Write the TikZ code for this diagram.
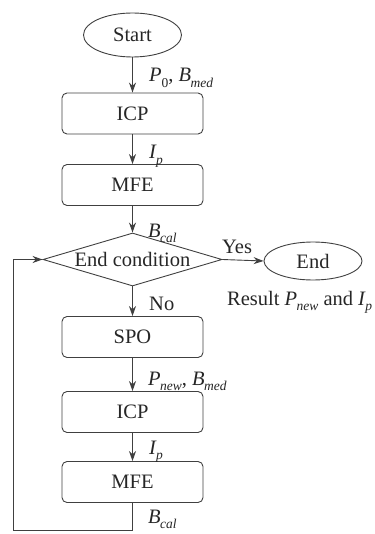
\documentclass[tikz,border=0pt]{standalone}
\usepackage{fontspec}
\setmainfont{Liberation Serif}
\usetikzlibrary{shapes.geometric,arrows.meta}
\newcommand{\ssb}[1]{\kern-0.6pt\raisebox{-0.28em}{\fontsize{13.5}{14}\selectfont\textit{#1}}}
\newcommand{\ssbu}[1]{\raisebox{-0.28em}{\fontsize{13.5}{14}\selectfont #1}}
\begin{document}
\begin{tikzpicture}[x=1pt,y=-1pt,
  every node/.style={font=\fontsize{20.5}{25}\selectfont, text=black!85},
  ln/.style={draw=black!75, line width=0.9pt},
  arr/.style={ln, -{Stealth[length=10pt,width=7pt]}},
  proc/.style={ln, rectangle, rounded corners=5pt, minimum width=141pt, minimum height=41pt, inner sep=0pt},
  term/.style={ln, ellipse, minimum width=98pt, minimum height=44pt, inner sep=0pt},
  lab/.style={anchor=base west, inner sep=0pt}]
\useasboundingbox (0,0) rectangle (374,534);
\node[term] (start) at (132.5,35) {Start};
\node[proc] (icp1) at (132.5,113.5) {ICP};
\node[proc] (mfe1) at (132.5,185) {MFE};
\node[ln, diamond, minimum width=179pt, minimum height=53pt, inner sep=0pt] (cond) at (132.5,259.5) {};
\node (condtxt) at (cond.center) {End condition};
\node[term, minimum height=38pt] (end) at (313,261) {End};
\node[proc] (spo) at (132.5,337) {SPO};
\node[proc] (icp2) at (132.5,412) {ICP};
\node[proc] (mfe2) at (132.5,482) {MFE};
\coordinate (lb) at (13,530);

\draw[arr] (start.south) -- (icp1.north);
\draw[arr] (icp1.south) -- (mfe1.north);
\draw[arr] (mfe1.south) -- (cond.north);
\draw[arr] (cond.east) -- (end.west);
\draw[arr] (cond.south) -- (spo.north);
\draw[arr] (spo.south) -- (icp2.north);
\draw[arr] (icp2.south) -- (mfe2.north);
\draw[arr] (mfe2.south) |- (lb) |- (cond.west);

\node[lab] (l1) at (149,82) {\textit{P}\ssbu{0}, \textit{B}\ssb{med}};
\node[lab] (l2) at (149,159) {\textit{I}\ssb{p}};
\node[lab] (l3) at (148,237) {\textit{B}\ssb{cal}};
\node[lab] (yes) at (222,253) {Yes};
\node[lab] (no) at (149,310) {No};
\node[lab] (res) at (227,305) {Result \textit{P}\ssb{new} and \textit{I}\ssb{p}};
\node[lab] (l4) at (148,385) {\textit{P}\ssb{new}, \textit{B}\ssb{med}};
\node[lab] (l5) at (149,454) {\textit{I}\ssb{p}};
\node[lab] (l6) at (148,523) {\textit{B}\ssb{cal}};
\end{tikzpicture}
\end{document}
